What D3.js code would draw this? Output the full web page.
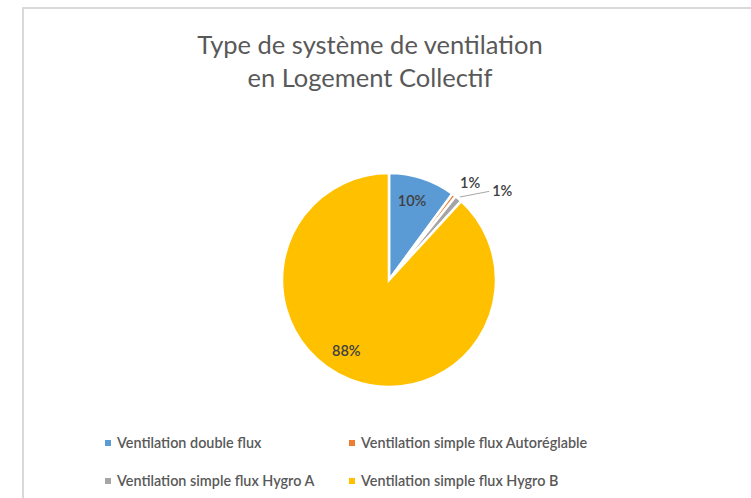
<!DOCTYPE html>
<html><head><meta charset="utf-8">
<script src="https://cdn.jsdelivr.net/npm/d3@7"></script>
<style>body{margin:0;background:#fff}svg{display:block}</style>
</head><body>
<svg id="c" width="751" height="498"></svg>
<script>
const categories = ["Ventilation double flux","Ventilation simple flux Autoréglable","Ventilation simple flux Hygro A","Ventilation simple flux Hygro B"];
const values = [10.1, 0.6, 1.1, 88.2];
const labels = ["10%","1%","1%","88%"];
const colors = ["#5B9BD5","#ED7D31","#A5A5A5","#FFC000"];
const titleLines = ["Type de système de ventilation","en Logement Collectif"];

const svg = d3.select("#c");
const W = 751, H = 498;
svg.append("rect").attr("width",W).attr("height",H).attr("fill","#fff");
// chart frame
svg.append("path").attr("d",`M23,${H} L23,8 L${W},8`).attr("fill","none").attr("stroke","#d9d9d9").attr("stroke-width",2);

const font = "Lato, 'Open Sans', sans-serif";
svg.append("g").selectAll("text").data(titleLines).join("text")
  .attr("x",370).attr("y",(d,i)=>54+i*33).attr("text-anchor","middle")
  .attr("font-family",font).attr("font-size",25.5).attr("fill","#595959").text(d=>d);

const cx = 389, cy = 280, r = 107;
const pie = d3.pie().sort(null).value(d=>d);
const arcs = pie(values);
const arc = d3.arc().innerRadius(0).outerRadius(r);
const g = svg.append("g").attr("transform",`translate(${cx},${cy})`);
g.selectAll("path").data(arcs).join("path").attr("d",arc)
  .attr("fill",(d,i)=>colors[i]).attr("stroke","#fff").attr("stroke-width",2.5);

const polar = (a,rad)=>[rad*Math.sin(a), -rad*Math.cos(a)];
const mid = d=>(d.startAngle+d.endAngle)/2;
const deg = Math.PI/180;
const lf = {"font-family":font,"font-size":14.5,"font-weight":600,"fill":"#404040"};
function txt(x,y,t,anchor){
  const e = g.append("text").attr("x",x).attr("y",y).attr("dy","0.35em").attr("text-anchor",anchor).text(t);
  Object.entries(lf).forEach(([k,v])=>e.attr(k,v));
}
// inside labels
let p = polar(mid(arcs[0]), r*0.78); txt(p[0]-3,p[1],labels[0],"middle");
p = polar(mid(arcs[3])+10*deg, r*0.77); txt(p[0],p[1],labels[3],"middle");
// outside small slices
p = polar(mid(arcs[1])+2.5*deg, r*1.18); txt(p[0],p[1],labels[1],"middle");
const a2 = mid(arcs[2]);
const s = polar(a2, r*1.02), e = polar(a2+8*deg, r*1.25);
g.append("path").attr("d",`M${s[0]},${s[1]} L${e[0]},${e[1]}`).attr("stroke","#a6a6a6").attr("stroke-width",1).attr("fill","none");
txt(e[0]+3,e[1],labels[2],"start");

// legend
const lg = svg.append("g");
const pos = [[108,443],[352,443],[108,481],[352,481]];
categories.forEach((c,i)=>{
  const [x,y]=pos[i];
  lg.append("rect").attr("x",x-3).attr("y",y-3).attr("width",6).attr("height",6).attr("fill",colors[i]);
  lg.append("text").attr("x",x+9).attr("y",y).attr("dy","0.35em").attr("font-family",font)
    .attr("font-size",14.4).attr("font-weight",600).attr("fill","#595959").text(c);
});
</script>
</body></html>
